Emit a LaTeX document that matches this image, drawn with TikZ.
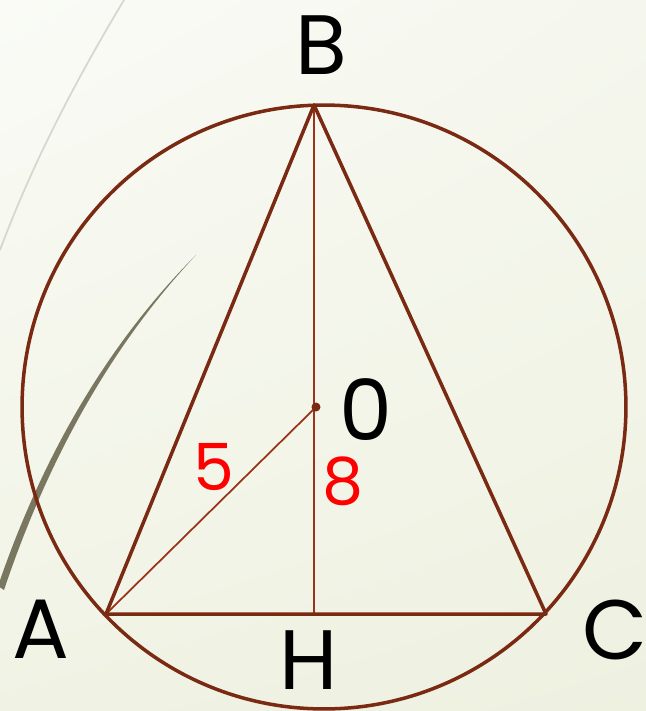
\documentclass[tikz,border=0pt]{standalone}
\usepackage{fontspec}
\setmainfont{Poppins}
\usetikzlibrary{positioning, shadings}
\definecolor{cline}{HTML}{7A2A12}
\definecolor{caux}{HTML}{9A3418}
\definecolor{cleaf}{HTML}{7A7760}
\definecolor{carc}{HTML}{D6D8CE}
\definecolor{cred}{HTML}{FF0000}
\definecolor{bgtl}{HTML}{FAFBF6}
\definecolor{bgtr}{HTML}{F5F7EE}
\definecolor{bgbl}{HTML}{F0F3E4}
\definecolor{bgbr}{HTML}{EEF1E0}
\tikzset{
  every picture/.style={line join=round, line cap=round},
  side/.style={draw=cline, line width=2pt},
  aux/.style={draw=caux, line width=#1},
  aux/.default=1pt,
  vlabel/.style={font=\fontsize{48}{50}\selectfont, text=black, inner sep=0pt},
  nlabel/.style={font=\fontsize{37}{40}\selectfont, text=cred, inner sep=0pt},
}

\begin{document}
\begin{tikzpicture}[x=0.02cm, y=-0.02cm]
  % page: 646 x 711 px, y runs down
  \useasboundingbox (0,0) rectangle (646,711);
  \clip (0,0) rectangle (646,711);
  \shade[upper left=bgtl, upper right=bgtr, lower left=bgbl, lower right=bgbr]
    (0,0) rectangle (646,711);
  % background swooshes
  \draw[carc, line width=1pt] (124,0) .. controls (70,90) and (30,170) .. (0,250);
  \fill[cleaf] (196,255) .. controls (118,333) and (48,440) .. (-2,586) -- (4,590)
    .. controls (53,444) and (121,335) .. (196,255) -- cycle;
  % points
  \coordinate (B) at (314,105);
  \coordinate (A) at (106,614);
  \coordinate (C) at (546,614);
  \coordinate (H) at (314,614);
  \coordinate (O) at (316,407);
  \coordinate (Oc) at (324,407);
  % circumcircle
  \draw[side] (Oc) circle[radius=6.04cm];
  % height and radius
  \draw[aux=1.3pt] (B) -- (H);
  \draw[aux] (A) -- (O);
  % triangle
  \draw[side] (A) -- (B) -- (C) -- cycle;
  \fill[cline] (O) circle[radius=0.09cm];
  % labels
  \node[vlabel] (lB) at (321,45) {B};
  \node[vlabel] (lO) at (366,410) {0};
  \node[vlabel] (lA) at (41,629) {A};
  \node[vlabel] (lC) at (615,630) {C};
  \node[vlabel] (lH) at (309,660) {H};
  \node[nlabel] (l5) at (214,467) {5};
  \node[nlabel] (l8) at (343,481) {8};
\end{tikzpicture}
\end{document}
